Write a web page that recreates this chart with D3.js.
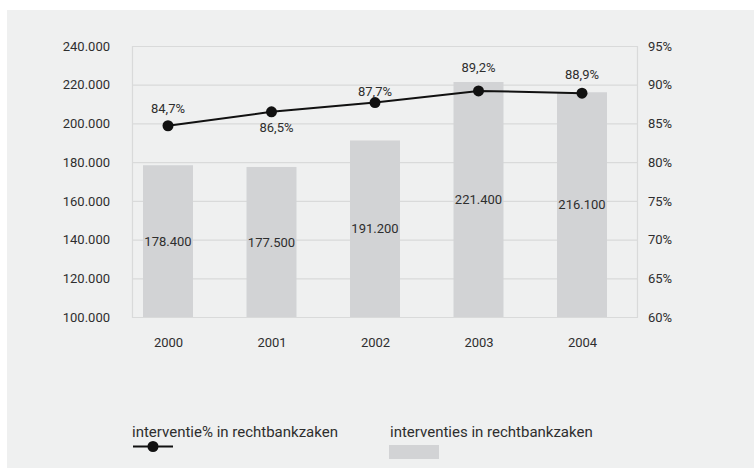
<!DOCTYPE html>
<html>
<head>
<meta charset="utf-8">
<script src="https://cdn.jsdelivr.net/npm/d3@7"></script>
<style>
  html, body { margin: 0; padding: 0; background: #ffffff; }
  svg { display: block; font-family: Roboto, "Noto Sans", sans-serif; }
</style>
</head>
<body>
<svg id="chart" width="754" height="468"></svg>
<script>
// ---- data ----
const years = ["2000", "2001", "2002", "2003", "2004"];
const interventies = [178400, 177500, 191200, 221400, 216100];
const interventiePct = [84.7, 86.5, 87.7, 89.2, 88.9];
const leftTicks = [100000, 120000, 140000, 160000, 180000, 200000, 220000, 240000];
const rightTicks = [60, 65, 70, 75, 80, 85, 90, 95];
const seriesNames = ["interventie% in rechtbankzaken", "interventies in rechtbankzaken"];
// label placement (layout only): vertical offset of % labels relative to dot
const pctLabelDy = [-17, 16, -11, -23, -19];
const pctLabelDx = [0, 5, 0, 0, 0];

// ---- layout ----
const W = 754, H = 468;
const plot = { left: 132, right: 637, top: 46, bottom: 317 };
const innerPadL = 36, innerPadR = 55;
const barW = 50;
const colors = { bg: "#eff0f0", grid: "#d9dada", bar: "#d2d3d5", line: "#111111", text: "#2e2e2e" };

const fmtNum = d3.formatLocale({ decimal: ",", thousands: ".", grouping: [3], currency: ["€", ""] }).format(",d");
const fmtPct = v => String(v).replace(".", ",") + "%";

const svg = d3.select("#chart");

svg.append("rect").attr("x", 7).attr("y", 10).attr("width", W - 7).attr("height", H - 10).attr("fill", colors.bg);

const x = d3.scalePoint().domain(years).range([plot.left + innerPadL, plot.right - innerPadR]);
const yL = d3.scaleLinear().domain([100000, 240000]).range([plot.bottom, plot.top]);
const yR = d3.scaleLinear().domain([60, 95]).range([plot.bottom, plot.top]);

// gridlines
svg.append("g").selectAll("line").data(leftTicks).join("line")
  .attr("x1", plot.left).attr("x2", plot.right)
  .attr("y1", d => yL(d) + 0.5).attr("y2", d => yL(d) + 0.5)
  .attr("stroke", colors.grid).attr("stroke-width", 1.2);
// vertical borders
[plot.left, plot.right].forEach(px => {
  svg.append("line").attr("x1", px + 0.5).attr("x2", px + 0.5)
    .attr("y1", plot.top).attr("y2", plot.bottom + 1)
    .attr("stroke", colors.grid).attr("stroke-width", 1.2);
});

// bars
const bars = years.map((y, i) => ({ year: y, v: interventies[i] }));
svg.append("g").selectAll("rect").data(bars).join("rect")
  .attr("x", d => x(d.year) - barW / 2)
  .attr("width", barW)
  .attr("y", d => yL(d.v))
  .attr("height", d => yL(100000) - yL(d.v))
  .attr("fill", colors.bar);

// bar labels
svg.append("g").selectAll("text").data(bars).join("text")
  .attr("x", d => x(d.year))
  .attr("y", d => (yL(d.v) + yL(100000)) / 2)
  .attr("dy", "0.35em")
  .attr("text-anchor", "middle")
  .attr("font-size", 13)
  .attr("fill", colors.text)
  .text(d => fmtNum(d.v));

// left axis labels
const axL = svg.append("g").attr("transform", `translate(${plot.left - 22},0)`)
  .call(d3.axisLeft(yL).tickValues(leftTicks).tickSize(0).tickPadding(0).tickFormat(fmtNum));
axL.select(".domain").remove();
axL.selectAll("text").attr("font-size", 13).attr("fill", colors.text).attr("font-family", "Roboto, sans-serif");

// right axis labels
const axR = svg.append("g").attr("transform", `translate(${plot.right + 11},0)`)
  .call(d3.axisRight(yR).tickValues(rightTicks).tickSize(0).tickPadding(0).tickFormat(d => d + "%"));
axR.select(".domain").remove();
axR.selectAll("text").attr("font-size", 13).attr("fill", colors.text).attr("font-family", "Roboto, sans-serif");

// x axis labels
const axX = svg.append("g").attr("transform", `translate(0,${plot.bottom + 21})`)
  .call(d3.axisBottom(x).tickSize(0).tickPadding(0));
axX.select(".domain").remove();
axX.selectAll("text").attr("font-size", 13).attr("fill", colors.text).attr("font-family", "Roboto, sans-serif");

// line
const pts = years.map((y, i) => ({ year: y, v: interventiePct[i], i }));
svg.append("path").datum(pts)
  .attr("fill", "none").attr("stroke", colors.line).attr("stroke-width", 2)
  .attr("d", d3.line().x(d => x(d.year)).y(d => yR(d.v)));
svg.append("g").selectAll("circle").data(pts).join("circle")
  .attr("cx", d => x(d.year)).attr("cy", d => yR(d.v)).attr("r", 5.5)
  .attr("fill", colors.line);
svg.append("g").selectAll("text").data(pts).join("text")
  .attr("x", d => x(d.year) + pctLabelDx[d.i])
  .attr("y", d => yR(d.v) + pctLabelDy[d.i])
  .attr("dy", "0.35em")
  .attr("text-anchor", "middle")
  .attr("font-size", 13)
  .attr("fill", colors.text)
  .text(d => fmtPct(d.v));

// legend
const lg = svg.append("g");
lg.append("text").attr("x", 132).attr("y", 437).attr("font-size", 15).attr("fill", colors.text).text(seriesNames[0]);
lg.append("line").attr("x1", 133).attr("x2", 173).attr("y1", 446.5).attr("y2", 446.5)
  .attr("stroke", colors.line).attr("stroke-width", 2);
lg.append("circle").attr("cx", 153).attr("cy", 446.5).attr("r", 5.5).attr("fill", colors.line);
lg.append("text").attr("x", 390).attr("y", 437).attr("font-size", 15).attr("fill", colors.text).text(seriesNames[1]);
lg.append("rect").attr("x", 389).attr("y", 445).attr("width", 50).attr("height", 14).attr("fill", colors.bar);
</script>
</body>
</html>
